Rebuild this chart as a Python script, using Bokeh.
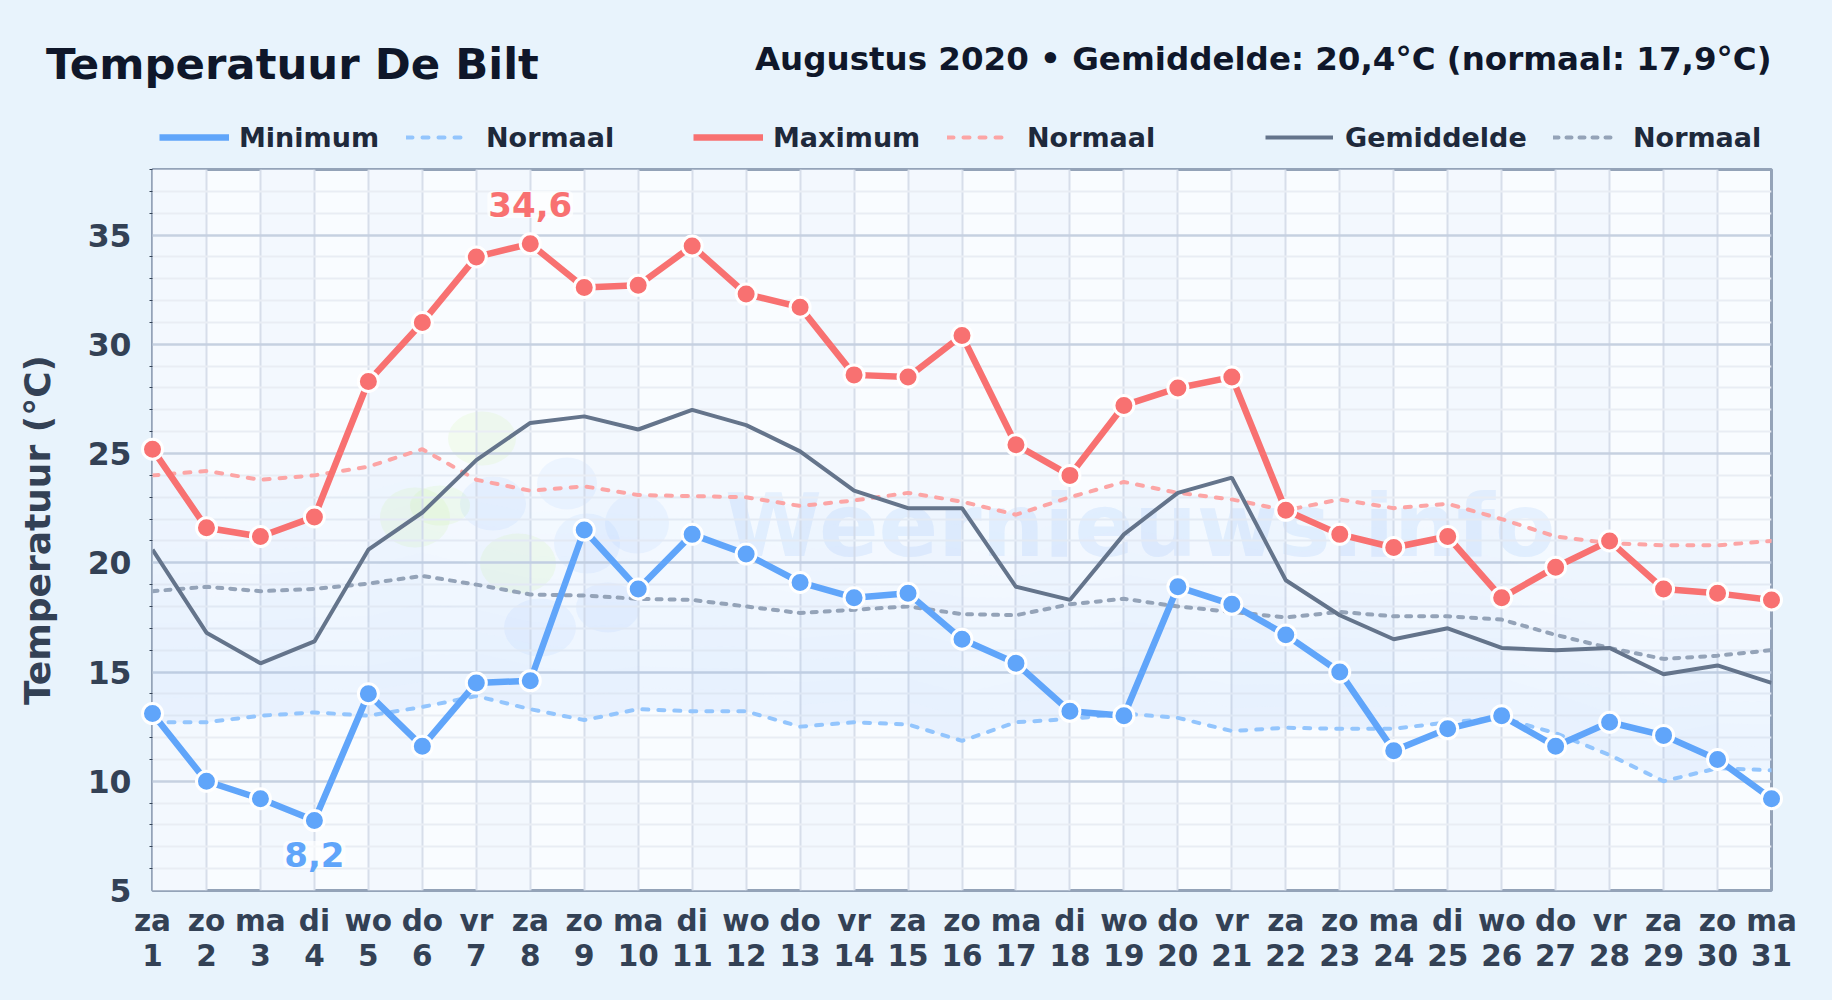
from bokeh.plotting import figure
from bokeh.layouts import column
from bokeh.models import (ColumnDataSource, FixedTicker, Label, Legend, LegendItem, Range1d)
from bokeh.core.properties import value
from bokeh.embed import file_html
from bokeh.resources import INLINE

FONT = "DejaVu Sans"
PAGE = "#e8f3fc"

days = list(range(1, 32))
weekdays = ["za","zo","ma","di","wo","do","vr","za","zo","ma","di","wo","do","vr","za","zo","ma","di","wo","do","vr","za","zo","ma","di","wo","do","vr","za","zo","ma"]
t_max = [25.2,21.6,21.2,22.1,28.3,31.0,34.0,34.6,32.6,32.7,34.5,32.3,31.7,28.6,28.5,30.4,25.4,24.0,27.2,28.0,28.5,22.4,21.3,20.7,21.2,18.4,19.8,21.0,18.8,18.6,18.3]
t_min = [13.1,10.0,9.2,8.2,14.0,11.6,14.5,14.6,21.5,18.8,21.3,20.4,19.1,18.4,18.6,16.5,15.4,13.2,13.0,18.9,18.1,16.7,15.0,11.4,12.4,13.0,11.6,12.7,12.1,11.0,9.2]
t_avg = [20.6,16.8,15.4,16.4,20.6,22.3,24.7,26.4,26.7,26.1,27.0,26.3,25.1,23.3,22.5,22.5,18.9,18.3,21.3,23.2,23.9,19.2,17.6,16.5,17.0,16.1,16.0,16.1,14.9,15.3,14.5]
n_max = [24.0,24.2,23.8,24.0,24.4,25.2,23.8,23.3,23.5,23.1,23.05,23.0,22.6,22.85,23.2,22.8,22.2,23.0,23.7,23.2,22.9,22.4,22.9,22.5,22.7,22.0,21.2,20.9,20.8,20.8,21.0]
n_min = [12.7,12.7,13.0,13.15,13.0,13.4,13.9,13.3,12.8,13.3,13.2,13.2,12.5,12.7,12.6,11.85,12.7,12.85,13.1,12.9,12.3,12.45,12.4,12.4,12.7,12.9,12.2,11.2,10.0,10.6,10.5]
n_avg = [18.7,18.9,18.7,18.8,19.05,19.4,19.0,18.55,18.5,18.35,18.3,18.0,17.7,17.85,18.0,17.65,17.6,18.1,18.35,18.0,17.75,17.5,17.75,17.55,17.55,17.4,16.7,16.1,15.6,15.75,16.0]
y_major = [5, 10, 15, 20, 25, 30, 35]
y_minor = [v for v in range(5, 39) if v % 5]
x_lbl_max, y_lbl_max, txt_lbl_max = [8], [36.4], ["34,6"]
x_lbl_min, y_lbl_min, txt_lbl_min = [4], [6.65], ["8,2"]
title_text = "Temperatuur De Bilt"
subtitle_text = "Augustus 2020 • Gemiddelde: 20,4°C (normaal: 17,9°C)"

HEAD = 160
FW, FH = 1619, 721
p = figure(width=1832, height=1000 - HEAD, frame_width=FW, frame_height=FH,
           min_border_left=152, min_border_top=169 - HEAD, min_border_right=61, min_border_bottom=110,
           x_range=Range1d(1, 31), y_range=Range1d(5, 38), frame_align=False,
           output_backend="svg", toolbar_location=None,
           background_fill_color="#f9fcff", border_fill_color=PAGE)
p.outline_line_color = "#94a3b8"
p.outline_line_width = 3

# axes
xa, ya = p.xaxis[0], p.yaxis[0]
xa.ticker = FixedTicker(ticks=days)
xa.major_label_overrides = {d: f"{w}\n{d}" for d, w in zip(days, weekdays)}
ya.ticker = FixedTicker(ticks=y_major, minor_ticks=y_minor)
for a in (xa, ya):
    a.axis_line_color = None
    a.major_tick_line_color = None
    a.major_label_text_font = FONT
    a.major_label_text_font_style = "bold"
    a.major_label_text_color = "#334155"
xa.major_label_text_font_size = "29.5px"
ya.major_label_text_font_size = "31.5px"
xa.minor_tick_line_color = None
xa.major_label_standoff = 7
xa.major_label_text_line_height = 1.05
ya.minor_tick_line_color = "#334155"
ya.minor_tick_out = 3
ya.minor_tick_in = 0
ya.major_label_standoff = 15
ya.axis_label = "Temperatuur (°C)"
ya.axis_label_text_font = FONT
ya.axis_label_text_font_style = "bold"
ya.axis_label_text_font_size = "36px"
ya.axis_label_text_color = "#334155"
ya.axis_label_standoff = 27

# grid
p.xgrid.grid_line_color = "#d7deea"
p.xgrid.grid_line_width = 2
p.ygrid.grid_line_color = "#c6d1e1"
p.ygrid.grid_line_width = 2.5
p.ygrid.minor_grid_line_color = "#e9edf4"
p.ygrid.minor_grid_line_width = 2

# alternating day stripes
p.quad(left=days[0:30:2], right=[d + 1 for d in days[0:30:2]], bottom=5, top=38,
       fill_color="#f3f8fe", line_color=None, level="image")

# watermark (behind everything)
def xd(px): return 1 + (px - 152.5) / (FW / 30)
def yd(py): return 5 + (890 - py) / (FH / 33)
blob_green = [(482, 438, 34, 27), (415, 517, 35, 30), (518, 563, 38, 30), (440, 505, 30, 20)]
blob_blue = [(493, 503, 33, 27), (567, 483, 30, 26), (587, 543, 33, 30), (637, 523, 32, 30), (540, 627, 36, 29), (608, 607, 32, 25)]
for blobs, col, al in ((blob_green, "#bef264", 0.10), (blob_blue, "#60a5fa", 0.08)):
    p.ellipse(x=[xd(b[0]) for b in blobs], y=[yd(b[1]) for b in blobs],
              width=[2 * b[2] / (FW / 30) for b in blobs], height=[2 * b[3] / (FH / 33) for b in blobs],
              fill_color=col, fill_alpha=al, line_color=None, level="image")
p.add_layout(Label(x=xd(725), y=yd(525), text="Weernieuws.info", text_font=FONT, text_font_style="bold",
                   text_font_size="88px", text_color="#60a5fa", text_alpha=0.12,
                   text_baseline="alphabetic", level="image"))

src = ColumnDataSource(dict(day=days, t_max=t_max, t_min=t_min, t_avg=t_avg, n_max=n_max, n_min=n_min, n_avg=n_avg))

# normal band: stacked slices, fading towards the normal maximum
n_slices = 10
for i in range(n_slices):
    lo = [a + (b - a) * i / n_slices for a, b in zip(n_min, n_max)]
    hi = [a + (b - a) * (i + 1) / n_slices for a, b in zip(n_min, n_max)]
    p.varea(x=days, y1=lo, y2=hi, fill_color="#60a5fa", fill_alpha=0.08 - 0.05 * i / (n_slices - 1))

norm_min_style = dict(line_color="#93c5fd", line_width=4, line_dash="6 10", line_cap="round")
norm_max_style = dict(line_color="#fca5a5", line_width=4, line_dash="6 10", line_cap="round")
norm_avg_style = dict(line_color="#94a3b8", line_width=4, line_dash="5 8", line_cap="round")
avg_style = dict(line_color="#64748b", line_width=4)
min_style = dict(line_color="#60a5fa", line_width=6.5)
max_style = dict(line_color="#f87171", line_width=6.5)

p.line("day", "n_min", source=src, **norm_min_style)
p.line("day", "n_max", source=src, **norm_max_style)
p.line("day", "n_avg", source=src, **norm_avg_style)
p.line("day", "t_avg", source=src, **avg_style)
p.line("day", "t_min", source=src, **min_style)
p.line("day", "t_max", source=src, **max_style)
p.scatter("day", "t_min", source=src, size=20, fill_color="#60a5fa", line_color="white", line_width=3, level="overlay")
p.scatter("day", "t_max", source=src, size=20, fill_color="#f87171", line_color="white", line_width=3, level="overlay")

# extremes
for xs, ys, ts, col in ((x_lbl_max, y_lbl_max, txt_lbl_max, "#f87171"), (x_lbl_min, y_lbl_min, txt_lbl_min, "#60a5fa")):
    p.text(xs, ys, text=ts, text_font=value(FONT), text_font_style="bold",
           text_font_size="34px", text_color=col, text_align="center", text_baseline="middle",
           background_fill_color="white", background_fill_alpha=0.65, border_radius=5, padding=1,
           level="overlay")

# header: title, subtitle and legends in a figure of its own, whose frame is the whole strip
h = figure(width=1832, height=HEAD, x_range=Range1d(0, 1832), y_range=Range1d(HEAD, 0), frame_align=False,
           min_border=0, x_axis_type=None, y_axis_type=None, output_backend="svg", toolbar_location=None,
           background_fill_color=PAGE, border_fill_color=PAGE)
h.outline_line_color = None
h.grid.visible = False
h.add_layout(Label(x=45.5, y=63, text=title_text, text_font=FONT, text_font_style="bold",
                   text_font_size="43.4px", text_color="#0f172a", text_baseline="alphabetic"))
h.add_layout(Label(x=1771, y=58, text=subtitle_text, text_font=FONT,
                   text_font_style="bold", text_font_size="32.5px", text_color="#0f172a",
                   text_align="right", text_baseline="alphabetic"))
entries = [("Minimum", min_style, 159, 70, 10), ("Normaal", norm_min_style, 406, 58, 22),
           ("Maximum", max_style, 693, 70, 10), ("Normaal", norm_max_style, 947, 58, 22),
           ("Gemiddelde", avg_style, 1265, 68, 12), ("Normaal", norm_avg_style, 1553, 65, 15)]
for label, style, px, gw, gap in entries:
    key = h.line(x=[-50, -10], y=[-50, -50], **style)   # off-view: only its legend key shows
    leg = Legend(items=[LegendItem(label=label, renderers=[key])],
                 location=(px, HEAD - 153), padding=0, margin=0, spacing=0,
                 border_line_color=None, background_fill_alpha=0,
                 glyph_width=gw, glyph_height=32, label_height=32, label_standoff=gap,
                 label_text_font=FONT, label_text_font_style="bold",
                 label_text_font_size="27px", label_text_color="#1e293b")
    h.add_layout(leg)

page = column(h, p, spacing=0)
html = file_html(page, INLINE).replace("<body>", f'<body style="background:{PAGE}">')
open("out.html", "w").write(html)
